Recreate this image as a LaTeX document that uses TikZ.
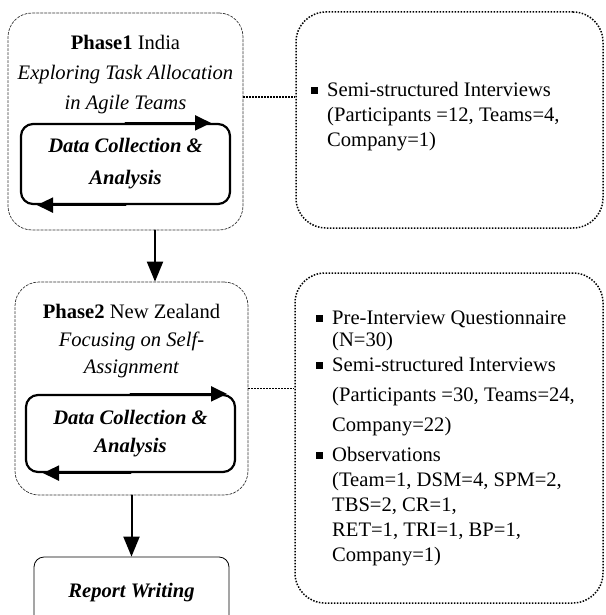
\documentclass[tikz,border=0pt]{standalone}
\usepackage{fontspec}
\setmainfont{Liberation Serif}
\usepackage{tikz}
\usetikzlibrary{calc}
\usetikzlibrary{arrows.meta}
\definecolor{dashgray}{rgb}{0.2,0.2,0.2}
\newcommand{\sqbul}{\llap{\rule[3pt]{7pt}{7pt}\hspace{9pt}}}
\tikzstyle{every node}=[font=\fontsize{20.6}{25}\selectfont, inner sep=0pt]
\tikzstyle{phasebox}=[draw=dashgray, line width=0.7pt, dash pattern=on 2.5pt off 1.5pt, rounded corners=24pt]
\tikzstyle{methodbox}=[draw, line width=1.5pt, line cap=butt, dash pattern=on 1.5pt off 1.5pt, rounded corners=30pt]
\tikzstyle{loopbox}=[draw, line width=2.2pt, rounded corners=12pt, align=center]
\tikzstyle{flow}=[-{Triangle[length=20pt,width=16pt]}, line width=2pt]
\tikzstyle{loopflow}=[-{Triangle[length=16pt,width=15pt]}, line width=2.2pt]
\tikzstyle{link}=[line width=1.5pt, line cap=butt, dash pattern=on 1.5pt off 1.5pt]

\begin{document}
\begin{tikzpicture}[line cap=round,line join=round,x=1pt,y=-1pt]
            \useasboundingbox (0,0) rectangle (605,615);
            \clip (0,0) rectangle (605,615);
            % phase 1
            \node[phasebox, minimum width=235, minimum height=217] (p1) at (125.5,121.5) {};
            \node[align=center, font=\fontsize{20.6}{30}\selectfont] (p1txt) at (125.5,75) {\textbf{Phase1} India\\\textit{Exploring Task Allocation}\\\textit{in Agile Teams}};
            \node[loopbox, minimum width=209, minimum height=80, font=\fontsize{20.6}{32}\selectfont\bfseries\itshape] (loop1) at (125.5,164) {Data Collection \&\\Analysis};
            \draw[loopflow] (loop1.north) -- ++(85.5,0);
            \draw[loopflow] (loop1.south) -- ++(-88.5,0);
            \node[methodbox, minimum width=307, minimum height=216] (r1) at (449.5,120) {};
            \node[anchor=west, align=left] (r1txt) at (327,117) {\sqbul Semi-structured Interviews\\(Participants =12, Teams=4,\\Company=1)};
            % phase 2
            \node[phasebox, minimum width=233, minimum height=213] (p2) at (131.5,388.5) {};
            \node[align=center, font=\fontsize{20.6}{27.5}\selectfont] (p2txt) at (131.5,341.4) {\textbf{Phase2} New Zealand\\\textit{Focusing on Self-}\\\textit{Assignment}};
            \node[loopbox, minimum width=209, minimum height=77, font=\fontsize{20.6}{28}\selectfont\bfseries\itshape] (loop2) at (130.5,433.5) {Data Collection \&\\Analysis};
            \draw[loopflow] (loop2.north) -- ++(96.5,0);
            \draw[loopflow] (loop2.south) -- ++(-87.5,0);
            \node[methodbox, minimum width=308, minimum height=330] (r2) at (449,438) {};
            \node[anchor=west, align=left] (r2txt) at (332,438.4) {\sqbul Pre-Interview Questionnaire\\[-3pt](N=30)\\\sqbul Semi-structured Interviews\\[5pt](Participants =30, Teams=24,\\[5pt]Company=22)\\[5pt]\sqbul Observations\\(Team=1, DSM=4, SPM=2,\\TBS=2, CR=1,\\RET=1, TRI=1, BP=1,\\Company=1)};
            \node[draw, line width=0.8pt, rounded corners=10pt, minimum width=195, minimum height=72, font=\fontsize{20.6}{25}\selectfont\bfseries\itshape] (rep) at (131.5,593) {Report Writing};
            % connectors
            \coordinate (j1) at (270,97);
            \coordinate (a1) at (155,0);
            \draw[link] (p1.east |- j1) -- (r1.west |- j1);
            \draw[link] (p2.east) -- (r2.west |- p2.east);
            \draw[flow] (p1.south -| a1) -- (p2.north -| a1);
            \draw[flow] (p2.south) -- (rep.north);
\end{tikzpicture}
\end{document}
